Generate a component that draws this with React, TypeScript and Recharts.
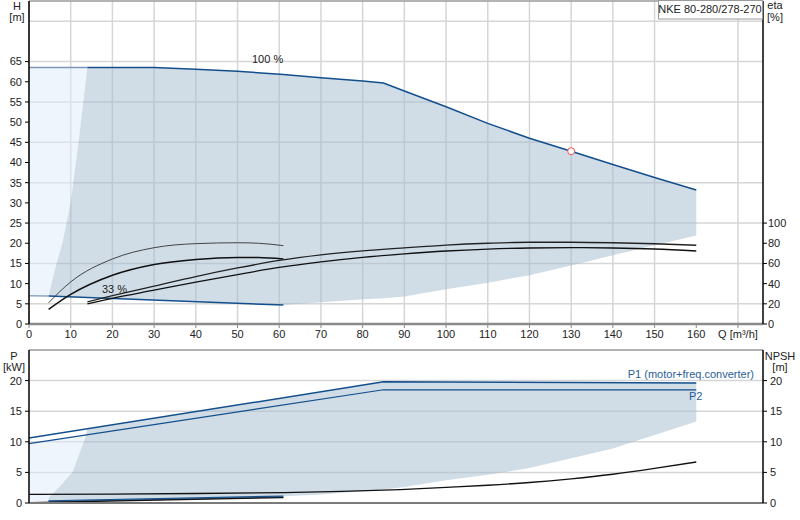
import React from "react"
import {
  ComposedChart,
  Area,
  Line,
  XAxis,
  YAxis,
  CartesianGrid,
  ReferenceDot,
  ReferenceLine,
} from "recharts"

// flow axis (shared by both panels)
const qTicks = [0, 10, 20, 30, 40, 50, 60, 70, 80, 90, 100, 110, 120, 130, 140, 150, 160, 170]
const headTicks = [0, 5, 10, 15, 20, 25, 30, 35, 40, 45, 50, 55, 60, 65]
const headGrid = [0, 5, 10, 15, 20, 25, 30, 35, 40, 45, 50, 55, 60, 65, 70, 75]
const etaTicks = [0, 20, 40, 60, 80, 100]
const powerTicks = [0, 5, 10, 15, 20]

// head envelope (dark area); top edge from index 7 on is the 100 % curve
const envelopeQ = [4.7, 5.4, 6.6, 8, 9, 10, 12, 14, 20, 30, 40, 50, 61, 70, 80, 85, 90, 100, 110, 120, 130, 140, 150, 160]
const envelopeHigh = [7, 10, 15, 20, 25, 30, 46, 63.5, 63.5, 63.5, 63.1, 62.6, 61.8, 61.0, 60.2, 59.7, 57.7, 53.8, 49.7, 46.0, 42.8, 39.5, 36.3, 33.2]
const envelopeLow = [6.95, 6.92, 6.87, 6.81, 6.77, 6.73, 6.65, 6.57, 6.33, 5.93, 5.53, 5.13, 4.7, 5.4, 6.1, 6.4, 6.8, 8.6, 10.2, 12.1, 14.5, 17.0, 19.5, 21.9]

// light area left of the envelope
const lightQ = [0, 4.7, 5.4, 6.6, 8, 9, 10, 12, 14]
const lightLow = [7, 7, 10, 15, 20, 25, 30, 46, 63.5]
const lightHigh = [63.5, 63.5, 63.5, 63.5, 63.5, 63.5, 63.5, 63.5, 63.5]

// min speed (33 %) head line
const minSpeedQ = [4.7, 61]
const minSpeedH = [6.95, 4.7]

// efficiency curves [%]
const etaShortQ = [4.7, 10, 20, 30, 40, 50, 55, 61]
const etaMinUpper = [21, 41.7, 64.4, 75.6, 79.6, 80.5, 80, 77.6]
const etaMinLower = [14.5, 29.3, 48.3, 59, 64, 66, 65.8, 64.4]
const etaLongQ = [14, 20, 30, 40, 50, 60, 70, 80, 90, 100, 110, 120, 130, 140, 150, 160]
const etaMaxUpper = [22, 28, 37.5, 47, 55.5, 63, 68.5, 72.5, 75.5, 78.2, 80, 81, 81, 80.5, 79.5, 78]
const etaMaxLower = [20, 25.5, 33.5, 41.5, 49, 56, 61.5, 66, 69.5, 72.3, 74.2, 75.3, 75.6, 75.3, 74.3, 72.3]

// power panel
const powerEnvQ = [4.5, 4.9, 7.3, 10.5, 12.1, 13.3, 14, 30, 50, 61, 70, 80, 85, 90, 100, 110, 120, 130, 140, 150, 160]
const powerEnvHigh = [0.35, 1, 2.6, 5.1, 8.1, 10.3, 12.1, 13.85, 16.0, 17.2, 18.2, 19.3, 19.8, 19.79, 19.77, 19.74, 19.71, 19.69, 19.66, 19.63, 19.6]
const powerEnvLow = [0.32, 0.33, 0.36, 0.4, 0.43, 0.44, 0.45, 0.68, 0.95, 1.1, 1.4, 1.9, 2.2, 2.6, 3.7, 4.6, 5.7, 7.3, 8.9, 11.1, 13.3]
const lightPowerQ = [0, 4.5, 4.9, 7.3, 10.5, 12.1, 13.3]
const lightPowerLow = [0.3, 0.35, 1, 2.6, 5.1, 8.1, 10.3]
const lightPowerHigh = [9.7, 10.17, 10.21, 10.46, 10.79, 10.95, 11.08]

const p1Q = [0, 85, 160]
const p1 = [10.6, 19.8, 19.6]
const p2Q = [0, 85, 160]
const p2 = [9.7, 18.5, 18.5]
const pMinQ = [4.7, 61]
const p1Min = [0.33, 1.1]
const p2Min = [0.22, 0.98]
const npshMinQ = [0, 61]
const npshMin = [0.05, 0.88]
const npshQ = [0, 20, 40, 61, 75, 89, 100, 110, 120, 130, 140, 150, 160]
const npsh = [1.4, 1.45, 1.55, 1.7, 1.9, 2.2, 2.55, 2.9, 3.35, 3.95, 4.7, 5.65, 6.7]

const zip = (xs: number[], ys: number[]) => xs.map((q, i) => ({ q, v: ys[i] }))
const zipRange = (xs: number[], lo: number[], hi: number[]) =>
  xs.map((q, i) => ({ q, v: [lo[i], hi[i]] }))

const FONT = "'Liberation Sans', Arial, sans-serif"
const BLUE = "#134f8c"
const tickStyle = { fontSize: 11, fill: "#222", fontFamily: FONT }

export default function App() {
  const curve100 = zip(envelopeQ.slice(7), envelopeHigh.slice(7))

  return (
    <div style={{ position: "absolute", left: 0, top: 0, width: 800, height: 520, background: "#fff", fontFamily: FONT }}>
      <ComposedChart width={800} height={345} margin={{ top: 1, right: 0, bottom: 0, left: 0 }}>
        <CartesianGrid stroke="#d6d6d6" strokeWidth={1.5} horizontalValues={headGrid} verticalValues={qTicks} />
        <XAxis
          type="number"
          dataKey="q"
          domain={[0, 176]}
          ticks={qTicks}
          height={21}
          tick={tickStyle}
          tickSize={4}
          tickMargin={2}
          tickFormatter={(v: number) => (v === 170 ? "Q [m³/h]" : String(v))}
          axisLine={{ stroke: "#8a8a8a", strokeWidth: 2.5 }}
          tickLine={{ stroke: "#8a8a8a" }}
          allowDataOverflow
        />
        <YAxis
          type="number"
          domain={[0, 80]}
          ticks={headTicks}
          width={29}
          tick={tickStyle}
          tickSize={4}
          tickMargin={3}
          axisLine={{ stroke: "#000", strokeWidth: 1.5 }}
          tickLine={{ stroke: "#000" }}
          allowDataOverflow
        />
        <YAxis
          yAxisId="eta"
          orientation="right"
          type="number"
          domain={[0, 320]}
          ticks={etaTicks}
          width={37}
          tick={{ ...tickStyle, textAnchor: "start" }}
          tickSize={4}
          tickMargin={1}
          axisLine={{ stroke: "#000", strokeWidth: 1.5 }}
          tickLine={{ stroke: "#000" }}
          allowDataOverflow
        />
        <ReferenceLine y={80} stroke="#9a9a9a" strokeWidth={1.5} />

        <Area data={zipRange(lightQ, lightLow, lightHigh)} dataKey="v" type="linear" stroke="none" fill="#ddebf9" fillOpacity={0.5} isAnimationActive={false} />
        <Area data={zipRange(envelopeQ, envelopeLow, envelopeHigh)} dataKey="v" type="linear" stroke="none" fill="#a1b9cd" fillOpacity={0.5} isAnimationActive={false} />

        <Line data={zip([0, 14], [63.5, 63.5])} dataKey="v" type="linear" stroke="#7f98b8" strokeWidth={1.5} dot={false} isAnimationActive={false} />
        <Line data={curve100} dataKey="v" type="linear" stroke={BLUE} strokeWidth={1.5} dot={false} isAnimationActive={false} />
        <Line data={zip([0, 4.7], [7, 6.95])} dataKey="v" type="linear" stroke="#8ea6c2" strokeWidth={1.5} dot={false} isAnimationActive={false} />
        <Line data={zip(minSpeedQ, minSpeedH)} dataKey="v" type="linear" stroke={BLUE} strokeWidth={1.5} dot={false} isAnimationActive={false} />

        <Line yAxisId="eta" data={zip(etaShortQ, etaMinUpper)} dataKey="v" type="monotone" stroke="#444" strokeWidth={1} dot={false} isAnimationActive={false} />
        <Line yAxisId="eta" data={zip(etaShortQ, etaMinLower)} dataKey="v" type="monotone" stroke="#111" strokeWidth={1.5} dot={false} isAnimationActive={false} />
        <Line yAxisId="eta" data={zip(etaLongQ, etaMaxUpper)} dataKey="v" type="monotone" stroke="#222" strokeWidth={1.3} dot={false} isAnimationActive={false} />
        <Line yAxisId="eta" data={zip(etaLongQ, etaMaxLower)} dataKey="v" type="monotone" stroke="#111" strokeWidth={1.3} dot={false} isAnimationActive={false} />

        <ReferenceDot x={130} y={42.8} r={3.5} fill="#fff" stroke="#f05050" strokeWidth={1} />
      </ComposedChart>

      <ComposedChart width={800} height={175} margin={{ top: 5, right: 0, bottom: 0, left: 0 }}>
        <CartesianGrid stroke="#d6d6d6" strokeWidth={1.5} horizontalValues={powerTicks} verticalValues={qTicks} />
        <XAxis
          type="number"
          dataKey="q"
          domain={[0, 176]}
          ticks={qTicks}
          height={17}
          tick={false}
          tickLine={false}
          axisLine={{ stroke: "#7a7a7a", strokeWidth: 2 }}
          allowDataOverflow
        />
        <YAxis
          type="number"
          domain={[0, 25]}
          ticks={powerTicks}
          width={29}
          tick={tickStyle}
          tickSize={4}
          tickMargin={3}
          axisLine={{ stroke: "#000", strokeWidth: 1.5 }}
          tickLine={{ stroke: "#000" }}
          allowDataOverflow
        />
        <YAxis
          yAxisId="npsh"
          orientation="right"
          type="number"
          domain={[0, 25]}
          ticks={powerTicks}
          width={37}
          tick={{ ...tickStyle, textAnchor: "start" }}
          tickSize={4}
          tickMargin={3}
          axisLine={{ stroke: "#000", strokeWidth: 1.5 }}
          tickLine={{ stroke: "#000" }}
          allowDataOverflow
        />
        <ReferenceLine y={25} stroke="#9a9a9a" strokeWidth={1.5} />

        <Area data={zipRange(lightPowerQ, lightPowerLow, lightPowerHigh)} dataKey="v" type="linear" stroke="none" fill="#ddebf9" fillOpacity={0.5} isAnimationActive={false} />
        <Area data={zipRange(powerEnvQ, powerEnvLow, powerEnvHigh)} dataKey="v" type="linear" stroke="none" fill="#a1b9cd" fillOpacity={0.5} isAnimationActive={false} />

        <Line data={zip(p1Q, p1)} dataKey="v" type="linear" stroke={BLUE} strokeWidth={1.5} dot={false} isAnimationActive={false} />
        <Line data={zip(p2Q, p2)} dataKey="v" type="linear" stroke={BLUE} strokeWidth={1.2} dot={false} isAnimationActive={false} />
        <Line data={zip(pMinQ, p1Min)} dataKey="v" type="linear" stroke={BLUE} strokeWidth={1.5} dot={false} isAnimationActive={false} />
        <Line data={zip(pMinQ, p2Min)} dataKey="v" type="linear" stroke="#3d6a9e" strokeWidth={1.2} dot={false} isAnimationActive={false} />
        <Line yAxisId="npsh" data={zip(npshMinQ, npshMin)} dataKey="v" type="linear" stroke="#111" strokeWidth={1.3} dot={false} isAnimationActive={false} />
        <Line yAxisId="npsh" data={zip(npshQ, npsh)} dataKey="v" type="monotone" stroke="#111" strokeWidth={1.3} dot={false} isAnimationActive={false} />
      </ComposedChart>

      <svg width={800} height={520} style={{ position: "absolute", left: 0, top: 0, pointerEvents: "none" }} fontFamily={FONT} fontSize={11}>
        <g fill="#222" textAnchor="middle">
          <text x={17} y={10}>H</text>
          <text x={17} y={21}>[m]</text>
          <text x={775} y={9}>eta</text>
          <text x={775} y={21}>[%]</text>
          <text x={14} y={360}>P</text>
          <text x={14} y={371}>[kW]</text>
          <text x={780} y={360}>NPSH</text>
          <text x={780} y={371}>[m]</text>
        </g>
        <rect x={658.5} y={0.5} width={104} height={18.5} fill="#fff" stroke="#9a9a9a" />
        <text x={710} y={13} textAnchor="middle" fill="#222">NKE 80-280/278-270</text>
        <text x={252} y={63} fill="#222">100 %</text>
        <text x={102} y={293} fill="#222">33 %</text>
        <text x={754} y={378} textAnchor="end" fill="#2a5d9a">P1 (motor+freq.converter)</text>
        <text x={689} y={400} fill="#2a5d9a">P2</text>
      </svg>
    </div>
  )
}
